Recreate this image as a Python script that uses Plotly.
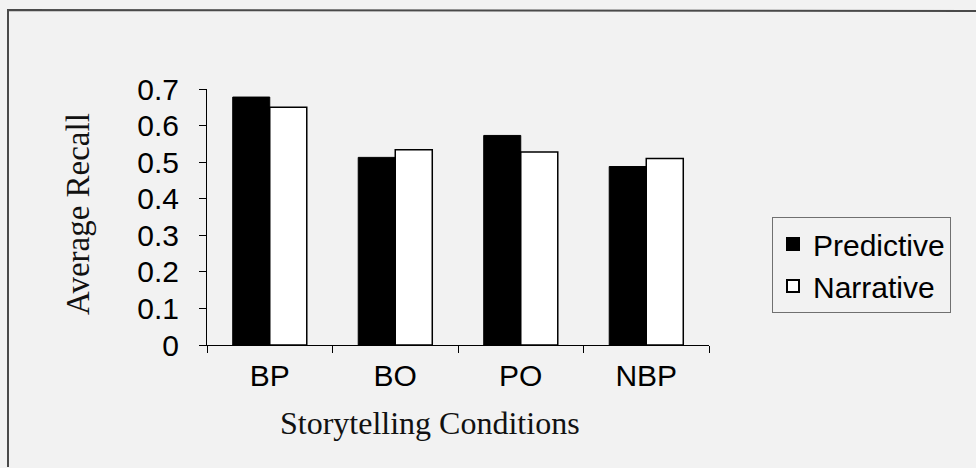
import plotly.graph_objects as go

categories = ["BP", "BO", "PO", "NBP"]
predictive = [0.678, 0.513, 0.573, 0.488]
narrative = [0.650, 0.534, 0.528, 0.510]
y_ticks = [0, 0.1, 0.2, 0.3, 0.4, 0.5, 0.6, 0.7]
y_ticktext = ["0", "0.1", "0.2", "0.3", "0.4", "0.5", "0.6", "0.7"]

BG = "#f2f2f2"
SANS = "Liberation Sans, Arial, sans-serif"
SERIF = "Liberation Serif, Times New Roman, serif"

W, H = 976, 468
L, R, T, B = 207, 709, 89, 345
pw, ph = R - L, B - T

def px(x):
    return (x - L) / pw

def py(y):
    return (B - y) / ph

fig = go.Figure()
fig.add_trace(go.Bar(name="Predictive", x=categories, y=predictive,
                     marker=dict(color="#000000", line=dict(color="#000000", width=1))))
fig.add_trace(go.Bar(name="Narrative", x=categories, y=narrative,
                     marker=dict(color="#ffffff", line=dict(color="#000000", width=1.5))))

fig.update_layout(
    width=W, height=H,
    margin=dict(l=L, r=W - R, t=T, b=H - B, pad=0),
    paper_bgcolor=BG, plot_bgcolor=BG,
    barmode="group", bargap=0.41, bargroupgap=0,
    showlegend=True,
    legend=dict(x=px(772), y=py(217), xanchor="left", yanchor="top",
                bgcolor=BG, bordercolor="#707070", borderwidth=1,
                font=dict(family=SANS, size=30, color="#000000"),
                itemsizing="constant", tracegroupgap=0),
    xaxis=dict(type="category", showline=True, linecolor="#000000", linewidth=1,
               ticks="outside", tickson="boundaries", ticklen=7, tickcolor="#000000",
               showgrid=False, zeroline=False, ticklabelstandoff=4,
               tickfont=dict(family=SANS, size=30, color="#000000")),
    yaxis=dict(range=[0, 0.7], showline=True, linecolor="#000000", linewidth=1,
               ticks="outside", ticklen=7, tickcolor="#000000",
               tickmode="array", tickvals=y_ticks, ticktext=y_ticktext,
               showgrid=False, zeroline=False, ticklabelstandoff=14,
               tickfont=dict(family=SANS, size=30, color="#000000")),
)

fig.add_annotation(text="Storytelling Conditions", xref="paper", yref="paper",
                   x=px(430), y=py(423), xanchor="center", yanchor="middle",
                   showarrow=False, font=dict(family=SERIF, size=32, color="#111111"))
fig.add_annotation(text="Average Recall", xref="paper", yref="paper",
                   x=px(78), y=py(214), xanchor="center", yanchor="middle",
                   textangle=-90, showarrow=False,
                   font=dict(family=SERIF, size=33, color="#111111"))

# page frame (scanned border)
fig.add_shape(type="path", xref="paper", yref="paper",
              path=f"M {px(8)},{py(467)} L {px(8)},{py(10)} L {px(976)},{py(11)}",
              line=dict(color="#4a4a4a", width=2))

fig.write_html(
    "out.html",
    config={"displayModeBar": False},
    post_script="document.body.style.margin='0';document.body.style.background='%s';" % BG,
)
